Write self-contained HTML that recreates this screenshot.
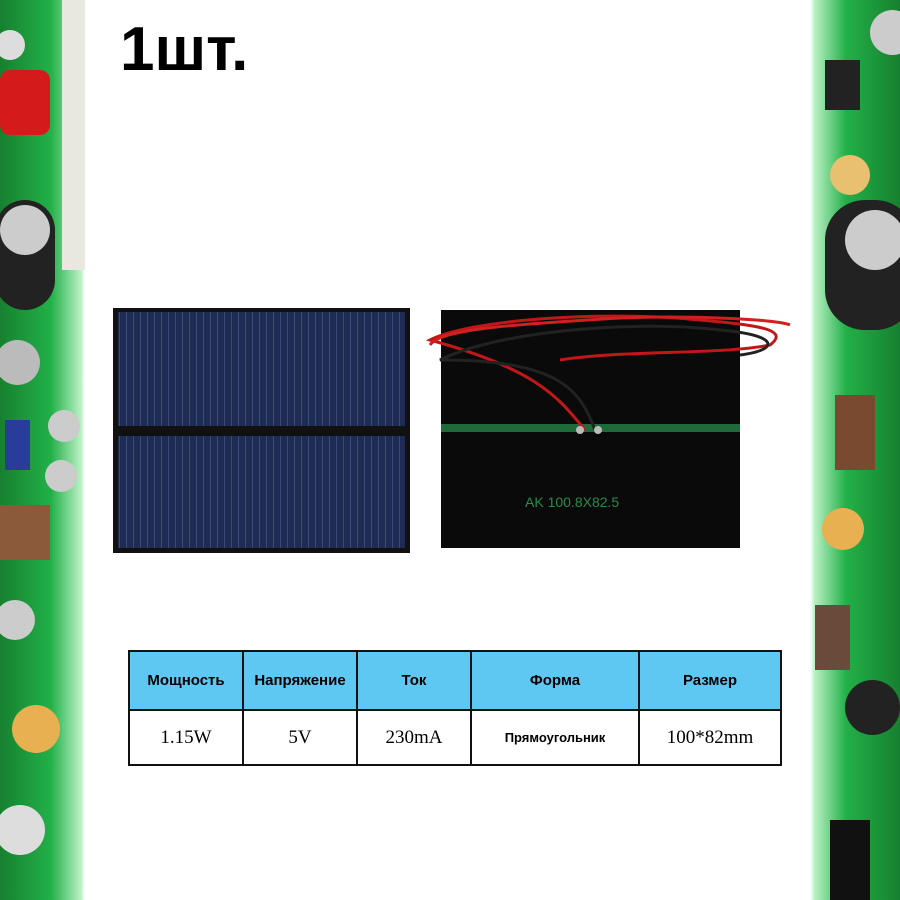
<!DOCTYPE html>
<html><head><meta charset="utf-8"><style>
body{margin:0;width:900px;height:900px;background:#fff;position:relative;overflow:hidden;font-family:"Liberation Sans",sans-serif}
.pcb{position:absolute;top:0;height:900px;background:#1d9a3a;overflow:hidden}
.c{position:absolute;border-radius:50%}
.r{position:absolute}
table{position:absolute;left:128px;top:650px;border-collapse:collapse}
td{border:2px solid #111;text-align:center;padding:0}
</style></head><body>
<div class="pcb" style="left:0;width:85px;background:linear-gradient(90deg,#17802f,#22b048 60%,#b9f0c4 95%,#fff)">
<div class="c" style="left:-5px;top:30px;width:30px;height:30px;background:#ddd"></div>
<div class="r" style="left:0;top:70px;width:50px;height:65px;background:#d41a1a;border-radius:10px"></div>
<div class="r" style="left:62px;top:0;width:25px;height:270px;background:#e8e8e0"></div>
<div class="c" style="left:-5px;top:200px;width:60px;height:110px;border-radius:30px;background:#222"></div>
<div class="c" style="left:0;top:205px;width:50px;height:50px;background:#ccc"></div>
<div class="c" style="left:-5px;top:340px;width:45px;height:45px;background:#bbb"></div>
<div class="r" style="left:5px;top:420px;width:25px;height:50px;background:#2a3c9a"></div>
<div class="c" style="left:48px;top:410px;width:32px;height:32px;background:#ccc"></div>
<div class="c" style="left:45px;top:460px;width:32px;height:32px;background:#ccc"></div>
<div class="r" style="left:0;top:505px;width:50px;height:55px;background:#8b5a3a"></div>
<div class="c" style="left:-5px;top:600px;width:40px;height:40px;background:#ccc"></div>
<div class="c" style="left:12px;top:705px;width:48px;height:48px;background:#e8b050"></div>
<div class="c" style="left:-5px;top:805px;width:50px;height:50px;background:#ddd"></div>
</div>
<div class="pcb" style="left:810px;width:90px;background:linear-gradient(90deg,#fff,#b9f0c4 5%,#22b048 40%,#17802f)">
<div class="c" style="left:60px;top:10px;width:45px;height:45px;background:#ccc"></div>
<div class="r" style="left:15px;top:60px;width:35px;height:50px;background:#222"></div>
<div class="c" style="left:20px;top:155px;width:40px;height:40px;background:#e8c070"></div>
<div class="c" style="left:15px;top:200px;width:90px;height:130px;border-radius:40px;background:#222"></div>
<div class="c" style="left:35px;top:210px;width:60px;height:60px;background:#ccc"></div>
<div class="r" style="left:25px;top:395px;width:40px;height:75px;background:#7a4a30"></div>
<div class="c" style="left:12px;top:508px;width:42px;height:42px;background:#e8b050"></div>
<div class="r" style="left:5px;top:605px;width:35px;height:65px;background:#6a4a3a"></div>
<div class="c" style="left:35px;top:680px;width:55px;height:55px;background:#222"></div>
<div class="r" style="left:20px;top:820px;width:40px;height:80px;background:#111"></div>
</div>
<div style="position:absolute;left:120px;top:14px;font-size:62px;font-weight:bold;color:#000">1шт.</div>
<svg style="position:absolute;left:0;top:0" width="900" height="900">
<defs><pattern id="v" width="7" height="10" patternUnits="userSpaceOnUse"><rect width="7" height="10" fill="#1e2b52"/><rect width="1" height="10" fill="#3a4a78"/></pattern></defs>
<rect x="113" y="308" width="297" height="245" fill="#111"/>
<rect x="118" y="312" width="287" height="114" fill="url(#v)"/>
<rect x="118" y="436" width="287" height="112" fill="url(#v)"/>
<rect x="441" y="310" width="299" height="238" fill="#0a0a0a"/>
<rect x="441" y="424" width="299" height="8" fill="#1f6a3a"/>
<text x="525" y="507" font-size="14" fill="#2a8a4a" font-family="Liberation Sans">AK 100.8X82.5</text>
<g fill="none" stroke-width="3">
<path d="M585 430 C560 400 540 370 430 340 C470 320 600 310 700 320 C760 325 790 330 770 345 C720 355 620 350 560 360" stroke="#c01818"/>
<path d="M595 430 C580 390 560 360 440 360 C500 330 640 320 720 330 C780 335 780 350 740 355" stroke="#222"/>
<path d="M430 345 C440 330 500 325 620 318 C700 315 780 320 790 325" stroke="#d02020"/>
</g>
<circle cx="580" cy="430" r="4" fill="#bbb"/><circle cx="598" cy="430" r="4" fill="#bbb"/>
</svg>
<table>
<tr style="height:59px;background:#5ec8f2;font-weight:bold;font-size:15px">
<td style="width:112px">Мощность</td><td style="width:112px">Напряжение</td><td style="width:112px">Ток</td><td style="width:166px">Форма</td><td style="width:140px">Размер</td></tr>
<tr style="height:55px;font-family:'Liberation Serif',serif;font-size:19px">
<td>1.15W</td><td>5V</td><td>230mA</td><td style="font-family:'Liberation Sans',sans-serif;font-weight:bold;font-size:13px">Прямоугольник</td><td>100*82mm</td></tr>
</table>
</body></html>
